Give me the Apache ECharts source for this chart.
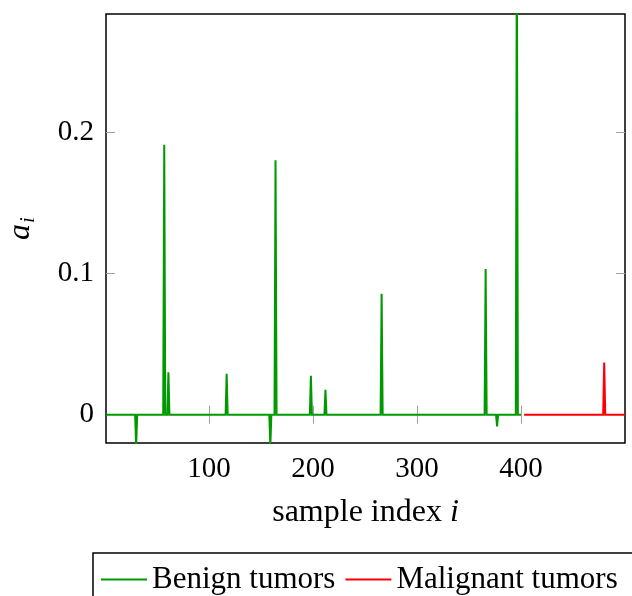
<!DOCTYPE html>
<html>
<head>
<meta charset="utf-8">
<script src="https://cdn.jsdelivr.net/npm/echarts@6/dist/echarts.min.js"></script>
<style>html,body{margin:0;padding:0;background:#fff}#c{width:632px;height:596px}</style>
</head>
<body>
<div id="c"></div>
<script>
// Benign tumors: sample index and a_i (zeros between spikes)
const benignX = [1, 29, 30, 31, 56, 57, 58, 60, 61, 62, 116, 117, 118, 158, 159, 160, 163, 164, 165, 197, 198, 199, 211, 212, 213, 265, 266, 267, 322, 323, 324, 365, 366, 367, 376, 377, 378, 395, 396, 397, 400];
const benignY = [0, 0, -0.022, 0, 0, 0.191, 0, 0, 0.03, 0, 0, 0.029, 0, 0, -0.022, 0, 0, 0.18, 0, 0, 0.0276, 0, 0, 0.0177, 0, 0, 0.0855, 0, 0, -0.0012, 0, 0, 0.103, 0, 0, -0.0083, 0, 0, 0.34, 0, 0];
// Malignant tumors
const malignantX = [403, 479, 480, 481, 500];
const malignantY = [0, 0, 0.037, 0, 0];
const xTicks = [100, 200, 300, 400];
const yTicks = [0, 0.1, 0.2];
const seriesNames = ['Benign tumors', 'Malignant tumors'];

const pairs = (xs, ys) => xs.map((x, i) => [x, ys[i]]);
const FONT = 'Liberation Serif';
const tickStyle = {show: true, inside: true, length: 9, lineStyle: {color: '#a0a0a0', width: 1}};

const chart = echarts.init(document.getElementById('c'), null, {renderer: 'canvas'});
chart.setOption({
  animation: false,
  backgroundColor: '#fff',
  grid: {left: 106, right: 7, top: 14, bottom: 153, show: true, borderColor: '#000', borderWidth: 1.5, containLabel: false, outerBoundsMode: 'none'},
  legend: {
    left: 93, top: 553, width: 600,
    data: seriesNames,
    orient: 'horizontal',
    icon: 'rect',
    itemWidth: 46, itemHeight: 2, itemGap: 10,
    padding: [11, 20, 11, 8],
    borderColor: '#000', borderWidth: 1.5, borderRadius: 0,
    textStyle: {fontFamily: FONT, fontSize: 31, color: '#000', padding: [0, 0, 0, 0]}
  },
  xAxis: [{
    type: 'value', min: 1, max: 500, position: 'bottom',
    axisLine: {show: false},
    axisTick: Object.assign({customValues: xTicks}, tickStyle),
    axisLabel: {customValues: xTicks, margin: 12, fontFamily: FONT, fontSize: 29, color: '#000'},
    splitLine: {show: false},
    name: '{n|sample index }{i|i}', nameLocation: 'middle', nameGap: 54,
    nameTextStyle: {rich: {n: {fontFamily: FONT, fontSize: 32, color: '#000'}, i: {fontFamily: FONT, fontStyle: 'italic', fontSize: 32, color: '#000'}}}
  }, {
    type: 'value', min: 1, max: 500, position: 'top',
    axisLine: {show: false},
    axisTick: Object.assign({customValues: xTicks}, tickStyle),
    axisLabel: {show: false}, splitLine: {show: false}
  }],
  yAxis: [{
    type: 'value', min: -0.02, max: 0.2834, position: 'left',
    axisLine: {show: false},
    axisTick: Object.assign({customValues: yTicks}, tickStyle),
    axisLabel: {customValues: yTicks, margin: 12, fontFamily: FONT, fontSize: 29, color: '#000'},
    splitLine: {show: false},
    name: '{a|a}{s|i}', nameLocation: 'middle', nameGap: 67, nameRotate: 90,
    nameTextStyle: {rich: {a: {fontFamily: FONT, fontStyle: 'italic', fontSize: 32, color: '#000'}, s: {fontFamily: FONT, fontStyle: 'italic', fontSize: 21, color: '#000', verticalAlign: 'bottom', padding: [16, 0, 0, 1]}}}
  }, {
    type: 'value', min: -0.02, max: 0.2834, position: 'right',
    axisLine: {show: false},
    axisTick: Object.assign({customValues: yTicks}, tickStyle),
    axisLabel: {show: false}, splitLine: {show: false}
  }],
  series: [{
    name: seriesNames[0], type: 'line', data: pairs(benignX, benignY),
    symbol: 'none', clip: true, color: '#009900',
    lineStyle: {color: '#009900', width: 2, join: 'miter'}
  }, {
    name: seriesNames[1], type: 'line', data: pairs(malignantX, malignantY),
    symbol: 'none', clip: true, color: '#ff0000',
    lineStyle: {color: '#ff0000', width: 2, join: 'miter'}
  }]
});
</script>
</body>
</html>
